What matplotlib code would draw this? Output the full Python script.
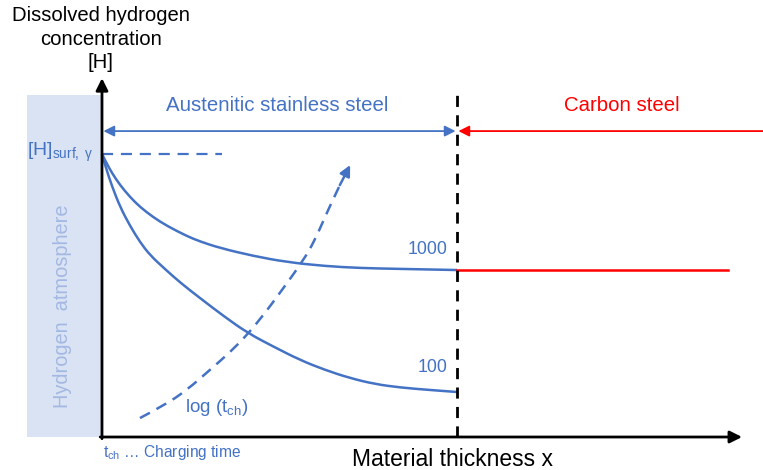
import matplotlib
matplotlib.use("Agg")
import matplotlib.pyplot as plt
from matplotlib.patches import Rectangle, PathPatch
from matplotlib.path import Path

plt.rcParams["font.family"] = ["Liberation Sans", "DejaVu Sans"]
plt.rcParams["mathtext.fontset"] = "custom"
plt.rcParams["mathtext.rm"] = "Liberation Sans"
plt.rcParams["mathtext.it"] = "Liberation Sans"

BLUE = "#4472C4"
RED = "#FF0000"
SHADE = "#DAE3F3"
SHADE_TEXT = "#A3B8E2"

# Normalised coordinates: thickness as a fraction of the stainless layer,
# concentration relative to the surface value [H]surf,γ
x_1000 = [0.000, 0.011, 0.028, 0.051, 0.079, 0.107, 0.144, 0.183, 0.239,
          0.276, 0.332, 0.425, 0.521, 0.628, 0.727, 0.839, 1.000]
h_1000 = [1.000, 0.972, 0.933, 0.890, 0.848, 0.813, 0.777, 0.746, 0.710,
          0.691, 0.668, 0.640, 0.618, 0.604, 0.597, 0.594, 0.590]

x_100 = [0.000, 0.011, 0.028, 0.051, 0.079, 0.107, 0.135, 0.177, 0.220,
         0.276, 0.344, 0.411, 0.485, 0.558, 0.628, 0.699, 0.769, 0.839,
         0.924, 1.000]
h_100 = [1.000, 0.951, 0.887, 0.813, 0.746, 0.689, 0.643, 0.594, 0.546,
         0.491, 0.426, 0.367, 0.318, 0.272, 0.237, 0.208, 0.187, 0.175,
         0.166, 0.159]

# direction of increasing charging time
x_time = [0.107, 0.177, 0.239, 0.304, 0.361, 0.411, 0.459, 0.501, 0.566,
          0.600, 0.634, 0.670, 0.699]
h_time = [0.067, 0.113, 0.166, 0.237, 0.300, 0.364, 0.438, 0.509, 0.622,
          0.696, 0.795, 0.890, 0.961]

curve_labels = ["1000", "100"]
h_surface = 1.0
h_carbon = 0.590
interface_x = 1.0
carbon_end_x = 1.763


def smooth_path(xs, ys):
    """Quadratic B-spline path using the points as control points."""
    verts = [(xs[0], ys[0])]
    codes = [Path.MOVETO]
    for i in range(1, len(xs) - 1):
        mid = ((xs[i] + xs[i + 1]) / 2, (ys[i] + ys[i + 1]) / 2)
        if i == len(xs) - 2:
            mid = (xs[-1], ys[-1])
        verts += [(xs[i], ys[i]), mid]
        codes += [Path.CURVE3, Path.CURVE3]
    return Path(verts, codes)


fig = plt.figure(figsize=(7.63, 4.70), dpi=100)
ax = fig.add_axes([0, 0, 1, 1])
ax.set_xlim(-0.2873, 1.862)
ax.set_ylim(-0.1166, 1.5442)
ax.axis("off")

# hydrogen atmosphere
ax.add_patch(Rectangle((-0.211, 0), 0.211, 1.208, facecolor=SHADE,
                       edgecolor="none", zorder=0))
ax.text(-0.110, 0.463, "Hydrogen  atmosphere", rotation=90, ha="center",
        va="center", fontsize=14.4, color=SHADE_TEXT)

# axes arrows
ax.annotate("", xy=(0, 1.268), xytext=(0, -0.006),
            arrowprops=dict(arrowstyle="-|>", color="black", lw=2.0,
                            mutation_scale=18, shrinkA=0, shrinkB=0))
ax.annotate("", xy=(1.803, 0), xytext=(-0.005, 0),
            arrowprops=dict(arrowstyle="-|>", color="black", lw=2.0,
                            mutation_scale=18, shrinkA=0, shrinkB=0))

# interface between the two steels
ax.plot([interface_x, interface_x], [0, 1.216], color="black", lw=2.0,
        dashes=(4, 3), zorder=3)

# surface concentration reference
ax.plot([0, 0.338], [h_surface, h_surface], color=BLUE, lw=1.6,
        dashes=(5, 3.5))

# concentration profiles
for xs, hs in ((x_1000, h_1000), (x_100, h_100)):
    ax.add_patch(PathPatch(smooth_path(xs, hs), fill=False, edgecolor=BLUE,
                           lw=1.8, capstyle="butt"))
ax.plot([interface_x, carbon_end_x], [h_carbon, h_carbon], color=RED, lw=1.8)

ax.text(x_1000[-1] - 0.028, h_1000[-1] + 0.072, curve_labels[0],
        ha="right", va="center", fontsize=12.8, color=BLUE)
ax.text(x_100[-1] - 0.028, h_100[-1] + 0.085, curve_labels[1],
        ha="right", va="center", fontsize=12.8, color=BLUE)

# charging time arrow
ax.add_patch(PathPatch(smooth_path(x_time[:-1], h_time[:-1]), fill=False,
                       edgecolor=BLUE, lw=1.8, linestyle=(0, (4.5, 3))))
ax.annotate("", xy=(x_time[-1], h_time[-1]),
            xytext=(x_time[-2], h_time[-2]),
            arrowprops=dict(arrowstyle="-|>", color=BLUE, lw=1.8,
                            mutation_scale=16, shrinkA=0, shrinkB=0))
ax.text(0.234, 0.106, r"log (t$_{\mathrm{ch}}$)", ha="left", va="center",
        fontsize=13.5, color=BLUE)

# material regions
ax.annotate("", xy=(0.004, 1.081), xytext=(interface_x - 0.004, 1.081),
            arrowprops=dict(arrowstyle="<|-|>", color=BLUE, lw=1.3,
                            mutation_scale=16, shrinkA=0, shrinkB=0))
ax.annotate("", xy=(interface_x + 0.004, 1.081), xytext=(1.862, 1.081),
            arrowprops=dict(arrowstyle="-|>", color=RED, lw=1.3,
                            mutation_scale=16, shrinkA=0, shrinkB=0))
ax.text(0.493, 1.173, "Austenitic stainless steel", ha="center",
        va="center", fontsize=14.7, color=BLUE)
ax.text(1.465, 1.173, "Carbon steel", ha="center", va="center",
        fontsize=14.7, color=RED)

# axis titles
ax.text(-0.003, 1.406, "Dissolved hydrogen\nconcentration\n[H]",
        ha="center", va="center", fontsize=14.6, color="black",
        linespacing=1.28)
ax.text(-0.025, h_surface + 0.006, r"[H]$_{\mathrm{surf,\ γ}}$", ha="right",
        va="center", fontsize=14, color=BLUE)
ax.text(0.986, -0.081, "Material thickness x", ha="center", va="center",
        fontsize=16.5, color="black")
ax.text(0.003, -0.053, r"t$_{\mathrm{ch}}$ … Charging time", ha="left",
        va="center", fontsize=11.2, color=BLUE)

fig.savefig("out.png", dpi=100)
